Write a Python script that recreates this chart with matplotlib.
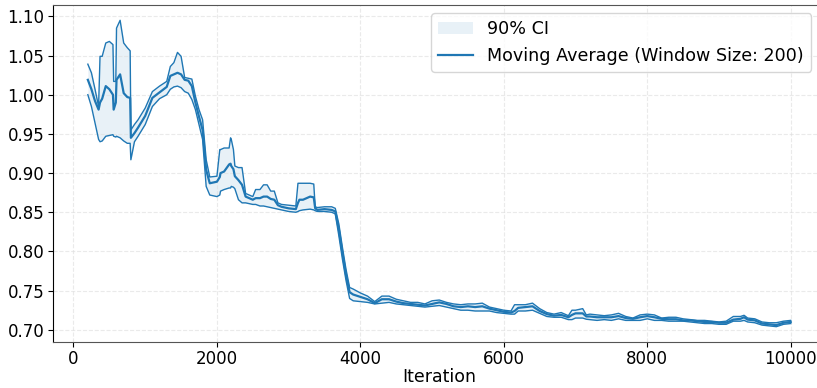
import numpy as np
import matplotlib
matplotlib.use("Agg")
import matplotlib.pyplot as plt

# iteration positions
iters = [200, 250, 300, 350, 370, 400, 450, 500, 550, 560, 590, 600, 650, 700, 750, 790,
         800, 850, 900, 1000, 1100, 1200, 1300, 1350, 1400, 1450, 1500, 1550, 1600, 1650,
         1700, 1750, 1800, 1850, 1900, 2000, 2040, 2050, 2100, 2170, 2190, 2200, 2230,
         2250, 2300, 2350, 2400, 2500, 2540, 2600, 2650, 2700, 2750, 2800, 2850, 2900,
         3000, 3100, 3130, 3150, 3200, 3300, 3350, 3370, 3400, 3500, 3600, 3650, 3700,
         3750, 3800, 3850, 3900, 4000, 4100, 4200, 4300, 4400, 4500, 4600, 4700, 4800,
         4900, 5000, 5100, 5200, 5300, 5400, 5500, 5600, 5700, 5800, 5900, 6000, 6100,
         6150, 6200, 6300, 6400, 6500, 6600, 6700, 6800, 6900, 6950, 7000, 7100, 7150,
         7200, 7300, 7400, 7500, 7600, 7700, 7800, 7900, 8000, 8100, 8200, 8300, 8400,
         8500, 8600, 8700, 8800, 8900, 9000, 9100, 9200, 9300, 9350, 9400, 9500, 9600,
         9700, 9800, 9900, 10000]

ci_upper = [1.039, 1.028, 1.007, 0.985, 1.049, 1.049, 1.066, 1.068, 1.064, 1.017, 1.017, 1.085,
            1.095, 1.066, 1.060, 1.056, 0.955, 0.962, 0.968, 0.983, 1.004, 1.011, 1.017, 1.036,
            1.041, 1.054, 1.049, 1.022, 1.021, 1.020, 0.998, 0.981, 0.968, 0.917, 0.895, 0.896,
            0.930, 0.930, 0.932, 0.932, 0.945, 0.943, 0.930, 0.909, 0.907, 0.907, 0.874, 0.870,
            0.879, 0.879, 0.885, 0.885, 0.877, 0.877, 0.862, 0.860, 0.859, 0.858, 0.887, 0.887,
            0.887, 0.887, 0.886, 0.857, 0.856, 0.857, 0.857, 0.855, 0.835, 0.805, 0.777, 0.754,
            0.752, 0.747, 0.743, 0.736, 0.743, 0.743, 0.739, 0.737, 0.735, 0.735, 0.733, 0.737,
            0.738, 0.735, 0.733, 0.732, 0.733, 0.733, 0.734, 0.729, 0.727, 0.725, 0.724, 0.732,
            0.732, 0.732, 0.734, 0.727, 0.722, 0.720, 0.722, 0.718, 0.725, 0.725, 0.727, 0.719,
            0.720, 0.719, 0.718, 0.719, 0.721, 0.717, 0.715, 0.719, 0.720, 0.719, 0.715, 0.716,
            0.716, 0.714, 0.713, 0.712, 0.712, 0.711, 0.710, 0.711, 0.717, 0.717, 0.7185, 0.715,
            0.714, 0.710, 0.709, 0.709, 0.711, 0.712]

moving_avg = [1.019, 1.007, 0.992, 0.981, 0.990, 0.995, 1.011, 1.007, 1.000, 0.981, 0.990, 1.019,
              1.026, 1.002, 0.997, 0.996, 0.945, 0.951, 0.958, 0.973, 0.996, 1.003, 1.010, 1.024,
              1.026, 1.028, 1.026, 1.019, 1.018, 1.011, 0.990, 0.972, 0.955, 0.904, 0.887, 0.889,
              0.895, 0.900, 0.902, 0.911, 0.912, 0.909, 0.905, 0.896, 0.891, 0.885, 0.870, 0.866,
              0.868, 0.868, 0.870, 0.870, 0.867, 0.866, 0.859, 0.857, 0.855, 0.854, 0.862, 0.866,
              0.866, 0.870, 0.869, 0.855, 0.853, 0.854, 0.853, 0.851, 0.828, 0.798, 0.770, 0.748,
              0.745, 0.742, 0.739, 0.734, 0.739, 0.739, 0.736, 0.734, 0.733, 0.732, 0.731, 0.733,
              0.735, 0.733, 0.730, 0.729, 0.730, 0.729, 0.730, 0.727, 0.725, 0.723, 0.722, 0.724,
              0.728, 0.729, 0.730, 0.724, 0.720, 0.718, 0.719, 0.716, 0.719, 0.721, 0.721, 0.717,
              0.717, 0.716, 0.716, 0.716, 0.7175, 0.715, 0.714, 0.716, 0.7175, 0.716, 0.714, 0.7135,
              0.7135, 0.712, 0.712, 0.711, 0.710, 0.710, 0.709, 0.709, 0.713, 0.714, 0.716, 0.713,
              0.712, 0.708, 0.707, 0.706, 0.709, 0.710]

ci_lower = [1.000, 0.985, 0.964, 0.943, 0.940, 0.941, 0.947, 0.948, 0.949, 0.947, 0.946, 0.947,
            0.945, 0.941, 0.938, 0.938, 0.917, 0.940, 0.947, 0.962, 0.985, 0.995, 1.000, 1.007,
            1.010, 1.011, 1.009, 1.004, 1.002, 0.994, 0.981, 0.962, 0.943, 0.883, 0.872, 0.870,
            0.872, 0.877, 0.879, 0.881, 0.881, 0.883, 0.882, 0.880, 0.866, 0.862, 0.862, 0.860,
            0.860, 0.858, 0.858, 0.857, 0.856, 0.855, 0.854, 0.853, 0.851, 0.850, 0.851, 0.852,
            0.853, 0.854, 0.853, 0.852, 0.851, 0.851, 0.850, 0.848, 0.820, 0.790, 0.763, 0.740,
            0.737, 0.736, 0.735, 0.733, 0.734, 0.735, 0.733, 0.732, 0.731, 0.730, 0.729, 0.730,
            0.731, 0.729, 0.727, 0.725, 0.725, 0.724, 0.724, 0.724, 0.722, 0.721, 0.720, 0.720,
            0.724, 0.724, 0.725, 0.721, 0.717, 0.716, 0.716, 0.713, 0.713, 0.715, 0.715, 0.7135,
            0.713, 0.712, 0.713, 0.712, 0.714, 0.712, 0.712, 0.712, 0.714, 0.712, 0.712, 0.711,
            0.711, 0.711, 0.710, 0.709, 0.708, 0.708, 0.707, 0.707, 0.711, 0.711, 0.712, 0.710,
            0.709, 0.706, 0.705, 0.704, 0.707, 0.708]

xticks = [0, 2000, 4000, 6000, 8000, 10000]
yticks = [0.70, 0.75, 0.80, 0.85, 0.90, 0.95, 1.00, 1.05, 1.10]

color = "#1f77b4"

fig = plt.figure(figsize=(8.17, 3.88), dpi=100)
# right edge of the axes runs past the figure, as in the reference
ax = fig.add_axes([0.0645, 0.1186, 0.9463, 0.8686])

ax.fill_between(iters, ci_lower, ci_upper, color=color, alpha=0.1, linewidth=0, label="90% CI")
ax.plot(iters, ci_upper, color=color, linewidth=1.0)
ax.plot(iters, ci_lower, color=color, linewidth=1.0)
ax.plot(iters, moving_avg, color=color, linewidth=1.6, label="Moving Average (Window Size: 200)")

ax.set_xticks(xticks)
ax.set_yticks(yticks)
ax.set_yticklabels([f"{v:.2f}" for v in yticks])
ax.tick_params(labelsize=12, pad=2.5)
ax.set_xlabel("Iteration", fontsize=12.5, labelpad=0)
ax.grid(True, linestyle="--", color="#dddddd", alpha=0.6, linewidth=0.8)

ax.spines["top"].set_color("#555555")
ax.spines["bottom"].set_color("#555555")

ax.legend(loc="upper right", bbox_to_anchor=(811 / 817, (388 - 13) / 388),
          bbox_transform=fig.transFigure, borderaxespad=0, fontsize=12.6)

fig.savefig("out.png", dpi=100)
